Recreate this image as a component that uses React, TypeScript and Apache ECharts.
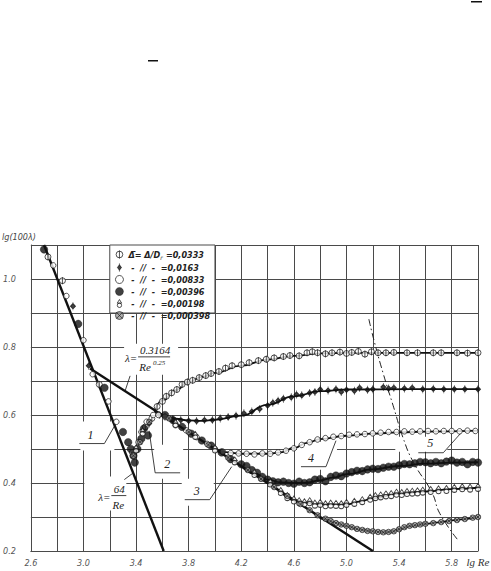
import { useEffect, useRef } from 'react';
import * as echarts from 'echarts';

// Relative roughness values (legend order)
const ROUGHNESS = ['0,0333', '0,0163', '0,00833', '0,00396', '0,00198', '0,000398'];

// Axis ticks: lg Re from 2.6 to 6.0, lg(100λ) from 0.2 to 1.1
const X_MIN = 2.6;
const X_MAX = 6.0;
const X_STEP = 0.2;
const Y_MIN = 0.2;
const Y_MAX = 1.1;
const Y_STEP = 0.1;
const X_NAME = 'lg Re';
const Y_NAME = 'lg(100λ)';

// Straight reference lines: laminar λ=64/Re and Blasius λ=0.3164/Re^0.25
const LAMINAR_X = [2.7, 3.61];
const LAMINAR_Y = [1.1, 0.2];
const BLASIUS_X = [3.05, 5.2];
const BLASIUS_Y = [0.737, 0.2];

// Averaging curves for each roughness
const FIT_A_X = [3.54, 3.6, 3.7, 3.8, 3.9, 4.0, 4.2, 4.4, 4.6, 4.8, 5.0, 5.5, 6.0];
const FIT_A_Y = [0.612, 0.642, 0.673, 0.697, 0.712, 0.724, 0.745, 0.763, 0.774, 0.781, 0.783, 0.783, 0.783];
const FIT_B_X = [3.54, 3.6, 3.7, 3.8, 3.9, 4.0, 4.2, 4.4, 4.6, 4.8, 5.0, 5.5, 6.0];
const FIT_B_Y = [0.612, 0.598, 0.589, 0.584, 0.583, 0.586, 0.598, 0.63, 0.655, 0.67, 0.675, 0.676, 0.676];
const FIT_C_X = [4.0, 4.1, 4.2, 4.4, 4.5, 4.6, 4.7, 4.8, 5.0, 5.2, 5.4, 5.6, 6.0];
const FIT_C_Y = [0.5, 0.49, 0.486, 0.486, 0.49, 0.503, 0.518, 0.529, 0.539, 0.545, 0.549, 0.551, 0.554];
const FIT_D_X = [4.2, 4.3, 4.4, 4.5, 4.6, 4.7, 4.8, 4.9, 5.0, 5.2, 5.4, 5.6, 5.8, 6.0];
const FIT_D_Y = [0.45, 0.428, 0.41, 0.402, 0.4, 0.401, 0.408, 0.416, 0.426, 0.44, 0.45, 0.457, 0.46, 0.461];
const FIT_E_X = [4.5, 4.6, 4.7, 4.8, 5.0, 5.1, 5.2, 5.4, 5.6, 5.8, 6.0];
const FIT_E_Y = [0.375, 0.35, 0.341, 0.337, 0.337, 0.345, 0.355, 0.368, 0.375, 0.382, 0.386];
const FIT_F_X = [4.75, 4.85, 4.9, 5.0, 5.1, 5.2, 5.3, 5.35, 5.4, 5.5, 5.6, 5.7, 5.8, 5.9, 6.0];
const FIT_F_Y = [0.312, 0.292, 0.284, 0.273, 0.263, 0.258, 0.255, 0.257, 0.264, 0.274, 0.28, 0.284, 0.29, 0.294, 0.3];

// Boundary of the quadratic-resistance zone (dash-dot)
const BOUNDARY_X = [5.17, 5.21, 5.28, 5.36, 5.43, 5.51, 5.65, 5.71, 5.85];
const BOUNDARY_Y = [0.882, 0.818, 0.721, 0.621, 0.533, 0.46, 0.372, 0.31, 0.231];

// Measured points [lg Re, lg(100λ)]
const PTS_A = [
  [2.73, 1.065], [2.84, 0.995], [3.12, 0.69], [3.42, 0.52], [3.47, 0.565], [3.52, 0.59], [3.56, 0.625],
  [3.6, 0.64], [3.63, 0.655], [3.67, 0.665], [3.71, 0.675], [3.75, 0.69], [3.79, 0.697], [3.83, 0.702],
  [3.88, 0.71], [3.93, 0.716], [3.97, 0.722], [4.03, 0.728], [4.08, 0.738], [4.13, 0.745], [4.2, 0.748],
  [4.26, 0.754], [4.33, 0.76], [4.39, 0.764], [4.45, 0.768], [4.52, 0.772], [4.57, 0.775], [4.64, 0.774],
  [4.7, 0.783], [4.74, 0.786], [4.78, 0.783], [4.84, 0.78], [4.89, 0.783], [4.95, 0.785], [5.0, 0.781],
  [5.04, 0.784], [5.09, 0.787], [5.14, 0.779], [5.19, 0.786], [5.24, 0.783], [5.3, 0.783], [5.36, 0.784],
  [5.46, 0.783], [5.54, 0.783], [5.66, 0.783], [5.72, 0.783], [5.84, 0.783], [5.92, 0.782], [6.0, 0.783],
];
const PTS_B = [
  [2.92, 0.92], [3.04, 0.745], [3.5, 0.575], [3.58, 0.6], [3.62, 0.595], [3.68, 0.588], [3.74, 0.585],
  [3.8, 0.583], [3.86, 0.582], [3.92, 0.585], [3.98, 0.585], [4.04, 0.59], [4.1, 0.594], [4.16, 0.598],
  [4.22, 0.605], [4.28, 0.61], [4.34, 0.618], [4.4, 0.628], [4.44, 0.636], [4.48, 0.642], [4.52, 0.648],
  [4.58, 0.652], [4.62, 0.66], [4.66, 0.658], [4.72, 0.665], [4.76, 0.668], [4.8, 0.675], [4.86, 0.672],
  [4.92, 0.676], [4.96, 0.668], [5.0, 0.674], [5.06, 0.671], [5.1, 0.68], [5.16, 0.674], [5.2, 0.676],
  [5.28, 0.682], [5.32, 0.678], [5.36, 0.68], [5.44, 0.678], [5.5, 0.68], [5.58, 0.676], [5.66, 0.677],
  [5.74, 0.676], [5.82, 0.676], [5.9, 0.676], [6.0, 0.676],
];
const PTS_C = [
  [2.77, 1.04], [2.87, 0.95], [3.0, 0.82], [3.07, 0.72], [3.19, 0.64], [3.25, 0.58], [3.37, 0.49],
  [3.44, 0.55], [3.48, 0.58], [3.53, 0.6], [3.57, 0.6], [3.62, 0.595], [3.7, 0.57], [3.78, 0.555],
  [3.86, 0.535], [3.94, 0.515], [4.0, 0.5], [4.06, 0.492], [4.12, 0.488], [4.18, 0.487], [4.24, 0.486],
  [4.3, 0.484], [4.36, 0.487], [4.42, 0.486], [4.48, 0.49], [4.54, 0.495], [4.6, 0.502], [4.66, 0.512],
  [4.72, 0.52], [4.78, 0.528], [4.84, 0.532], [4.9, 0.536], [4.96, 0.538], [5.02, 0.542], [5.08, 0.543],
  [5.14, 0.544], [5.2, 0.546], [5.26, 0.548], [5.32, 0.55], [5.38, 0.55], [5.44, 0.552], [5.5, 0.551],
  [5.56, 0.552], [5.62, 0.553], [5.68, 0.552], [5.74, 0.553], [5.8, 0.553], [5.86, 0.552], [5.92, 0.554],
  [5.98, 0.553],
];
const PTS_D = [
  [2.7, 1.087], [2.96, 0.868], [3.16, 0.68], [3.3, 0.55], [3.34, 0.52], [3.36, 0.5], [3.38, 0.48],
  [3.39, 0.46], [3.41, 0.5], [3.44, 0.53], [3.46, 0.56], [3.49, 0.54], [3.62, 0.6], [3.68, 0.585],
  [3.75, 0.565], [3.82, 0.545], [3.9, 0.525], [3.97, 0.51], [4.05, 0.49], [4.12, 0.47], [4.2, 0.455],
  [4.24, 0.45], [4.28, 0.438], [4.32, 0.43], [4.36, 0.418], [4.4, 0.41], [4.44, 0.405], [4.48, 0.402],
  [4.52, 0.404], [4.56, 0.4], [4.6, 0.398], [4.64, 0.404], [4.68, 0.4], [4.72, 0.402], [4.76, 0.41],
  [4.8, 0.412], [4.84, 0.405], [4.88, 0.418], [4.92, 0.422], [4.96, 0.42], [5.0, 0.428], [5.04, 0.432],
  [5.08, 0.436], [5.12, 0.435], [5.16, 0.44], [5.2, 0.442], [5.24, 0.441], [5.28, 0.445], [5.32, 0.448],
  [5.36, 0.448], [5.4, 0.452], [5.44, 0.456], [5.48, 0.455], [5.52, 0.458], [5.56, 0.462], [5.6, 0.461],
  [5.64, 0.458], [5.68, 0.462], [5.72, 0.458], [5.76, 0.463], [5.8, 0.466], [5.84, 0.46], [5.88, 0.462],
  [5.92, 0.455], [5.96, 0.462], [6.0, 0.46],
];
const PTS_E = [
  [3.4, 0.5], [3.45, 0.55], [3.7, 0.575], [3.85, 0.54], [4.0, 0.5], [4.15, 0.465], [4.3, 0.428],
  [4.42, 0.4], [4.5, 0.375], [4.55, 0.36], [4.6, 0.35], [4.64, 0.345], [4.68, 0.342], [4.72, 0.345],
  [4.76, 0.338], [4.8, 0.34], [4.84, 0.336], [4.88, 0.338], [4.92, 0.337], [4.96, 0.336], [5.0, 0.34],
  [5.06, 0.343], [5.12, 0.348], [5.18, 0.355], [5.22, 0.36], [5.26, 0.362], [5.3, 0.365], [5.34, 0.366],
  [5.38, 0.37], [5.42, 0.369], [5.46, 0.372], [5.5, 0.373], [5.54, 0.374], [5.58, 0.376], [5.64, 0.378],
  [5.7, 0.38], [5.76, 0.381], [5.82, 0.384], [5.88, 0.386], [5.94, 0.385], [6.0, 0.387],
];
const PTS_F = [
  [3.38, 0.48], [3.43, 0.52], [3.5, 0.58], [3.65, 0.59], [3.8, 0.55], [3.95, 0.512], [4.1, 0.475],
  [4.25, 0.438], [4.35, 0.412], [4.45, 0.388], [4.55, 0.362], [4.65, 0.338], [4.72, 0.32], [4.78, 0.305],
  [4.84, 0.295], [4.88, 0.288], [4.92, 0.282], [4.96, 0.278], [5.0, 0.274], [5.04, 0.27], [5.08, 0.265],
  [5.12, 0.262], [5.16, 0.259], [5.2, 0.258], [5.24, 0.256], [5.28, 0.255], [5.32, 0.256], [5.36, 0.258],
  [5.4, 0.264], [5.44, 0.27], [5.48, 0.274], [5.52, 0.276], [5.56, 0.278], [5.6, 0.28], [5.66, 0.282],
  [5.72, 0.285], [5.78, 0.288], [5.84, 0.291], [5.9, 0.294], [5.96, 0.298], [6.0, 0.3],
];

// Marker glyphs
const SYM_PHI = 'path://M0,6a5,5 0 1,0 10,0a5,5 0 1,0 -10,0M5,0L5,12';
const SYM_DROP = 'path://M4,0L4,2M4,10L4,12M4,2L7,6L4,10L1,6Z';
const SYM_TRI = 'path://M4,0L7,5L1,5ZM1,8a3,3 0 1,0 6,0a3,3 0 1,0 -6,0';
const SYM_CROSS = 'path://M0,5a5,5 0 1,0 10,0a5,5 0 1,0 -10,0M1.5,1.5L8.5,8.5M8.5,1.5L1.5,8.5';

const INK = '#111';
const GRID = '#4a4a4a';
const LABEL = '#555';
const NARROW = '"DejaVu Sans Condensed", "Liberation Sans Narrow", "Liberation Sans", sans-serif';
const SERIF = '"Liberation Serif", "DejaVu Serif", serif';

const pair = (xs: number[], ys: number[]) => xs.map((x, i) => [x, ys[i]]);

const MARKERS = [
  { pts: PTS_A, symbol: SYM_PHI, size: [6, 7], style: { color: '#fff', borderColor: INK, borderWidth: 0.9 } },
  { pts: PTS_B, symbol: SYM_DROP, size: [5, 8], style: { color: INK, borderColor: INK, borderWidth: 0.9 } },
  { pts: PTS_C, symbol: 'circle', size: 5.5, style: { color: '#fff', borderColor: INK, borderWidth: 0.9 } },
  { pts: PTS_D, symbol: 'circle', size: 7.5, style: { color: INK, borderColor: INK, borderWidth: 0.5 } },
  { pts: PTS_E, symbol: SYM_TRI, size: [5, 8], style: { color: '#fff', borderColor: INK, borderWidth: 0.9 } },
  { pts: PTS_F, symbol: SYM_CROSS, size: 5.5, style: { color: '#999', borderColor: INK, borderWidth: 0.8 } },
];

const FITS = [
  pair(FIT_A_X, FIT_A_Y), pair(FIT_B_X, FIT_B_Y), pair(FIT_C_X, FIT_C_Y),
  pair(FIT_D_X, FIT_D_Y), pair(FIT_E_X, FIT_E_Y), pair(FIT_F_X, FIT_F_Y),
];

function buildOption(): any {
  const lineSeries = (data: number[][], width: number, extra: any = {}) => ({
    type: 'line', data, showSymbol: false, symbol: 'none', silent: true, z: 3,
    lineStyle: { color: INK, width }, ...extra,
  });
  const series: any[] = [
    lineSeries(pair(LAMINAR_X, LAMINAR_Y), 2.4),
    lineSeries(pair(BLASIUS_X, BLASIUS_Y), 2.4),
    ...FITS.map((d) => lineSeries(d, 1.8, { smooth: true, smoothMonotone: 'x' })),
    lineSeries(pair(BOUNDARY_X, BOUNDARY_Y), 1, {
      smooth: true, lineStyle: { color: '#222', width: 1, type: [7, 3, 1.5, 3] }, z: 2,
    }),
    ...MARKERS.map((m, i) => ({
      type: 'scatter', name: ROUGHNESS[i], data: m.pts, symbol: m.symbol, symbolSize: m.size,
      itemStyle: m.style, z: 4, silent: true,
    })),
  ];
  return {
    animation: false,
    backgroundColor: '#fff',
    grid: { left: 28, right: 13, top: 245, bottom: 20, containLabel: false },
    xAxis: {
      type: 'value', min: X_MIN, max: X_MAX, interval: X_STEP,
      axisLine: { show: true, lineStyle: { color: GRID, width: 1 } },
      axisTick: { show: false },
      splitLine: { show: true, lineStyle: { color: GRID, width: 1 } },
      axisLabel: {
        margin: 7, color: LABEL, fontSize: 9, fontStyle: 'italic', fontFamily: NARROW,
        showMaxLabel: true, showMinLabel: true,
        formatter: (v: number) => {
          const i = Math.round((v - X_MIN) / X_STEP);
          return i % 2 === 0 && Math.abs(v - X_MAX) > 1e-6 ? v.toFixed(1) : '';
        },
      },
    },
    yAxis: {
      type: 'value', min: Y_MIN, max: Y_MAX, interval: Y_STEP,
      axisLine: { show: true, lineStyle: { color: GRID, width: 1 } },
      axisTick: { show: false },
      splitLine: { show: true, lineStyle: { color: GRID, width: 1 } },
      axisLabel: {
        margin: 15, color: LABEL, fontSize: 9, fontStyle: 'italic', fontFamily: NARROW,
        formatter: (v: number) => {
          const i = Math.round(v * 10);
          return i % 2 === 0 && i <= 10 ? v.toFixed(1) : '';
        },
      },
    },
    legend: {
      left: 110, top: 245, orient: 'vertical', itemWidth: 8, itemHeight: 8, itemGap: 3,
      selectedMode: false, z: 10,
      data: ROUGHNESS.map((name, i) => ({
        name, icon: MARKERS[i].symbol,
        itemStyle: MARKERS[i].style,
      })),
      formatter: (name: string) =>
        name === ROUGHNESS[0] ? `{t|Δ̄= Δ/D}{s|г}{t| =${name}}` : `{t| -  //  -  =${name}}`,
      textStyle: {
        color: '#222', fontSize: 9, lineHeight: 9, fontStyle: 'italic', fontFamily: NARROW,
        rich: {
          t: { color: '#222', fontSize: 9, fontStyle: 'italic', fontWeight: 'bold', fontFamily: NARROW },
          s: { color: '#222', fontSize: 6, fontStyle: 'italic', fontFamily: NARROW, padding: [5, 0, 0, 0] },
        },
      },
    },
    series,
  };
}

function buildGraphic(px: (x: number, y: number) => number[]): any[] {
  const els: any[] = [];
  const rect = (x: number, y: number, w: number, h: number, stroke?: string) => els.push({
    type: 'rect', z: 1, silent: true, shape: { x, y, width: w, height: h },
    style: { fill: '#fff', stroke: stroke || 'none', lineWidth: stroke ? 1 : 0 },
  });
  const seg = (x1: number, y1: number, x2: number, y2: number, w = 1) => els.push({
    type: 'line', z: 6, silent: true, shape: { x1, y1, x2, y2 }, style: { stroke: INK, lineWidth: w },
  });
  const txt = (text: string, x: number, y: number, size: number, family = SERIF, fill = '#222') => els.push({
    type: 'text', z: 7, silent: true,
    style: { text, x, y, fill, fontSize: size, fontFamily: family, fontStyle: 'italic', align: 'center', verticalAlign: 'middle' },
  });

  // legend box between lgRe 3.2…4.0 and lg(100λ) 0.9…1.1
  const b0 = px(3.2, 1.1);
  const b1 = px(4.0, 0.9);
  rect(b0[0], b0[1], b1[0] - b0[0], b1[1] - b0[1], GRID);

  // Blasius formula
  const f1 = px(3.537, 0.771);
  rect(f1[0] - 30, f1[1] - 13, 54, 31);
  txt('λ=', f1[0] - 23, f1[1] + 1, 11);
  txt('0.3164', f1[0] + 1, f1[1] - 7, 11);
  seg(f1[0] - 16, f1[1], f1[0] + 16, f1[1], 0.8);
  txt('Re', f1[0] - 9, f1[1] + 10, 11);
  txt('0.25', f1[0] + 5, f1[1] + 6, 7);
  seg(f1[0] - 24, f1[1] + 19, f1[0] - 29, f1[1] + 34, 0.8);

  // laminar formula
  const f2 = px(3.265, 0.363);
  rect(f2[0] - 34, f2[1] - 19, 42, 34);
  txt('λ=', f2[0] - 14, f2[1] + 1, 11);
  txt('64', f2[0] + 1, f2[1] - 7, 11);
  seg(f2[0] - 7, f2[1], f2[0] + 8, f2[1], 0.8);
  txt('Re', f2[0], f2[1] + 9, 11);
  seg(f2[0] + 6, f2[1] - 16, f2[0] + 14, f2[1] - 22, 0.8);

  // numbered callouts: kink point, label offset, leader tip, white backing, shelf direction
  const callouts: [string, number, number, number[], number[], number[], number][] = [
    ['1', 3.159, 0.516, [-14, -9], [11, -19], [-24, -22, 34, 29], -1],
    ['2', 3.545, 0.43, [12, -9], [-6, -42], [-1, -28, 29, 34], 1],
    ['3', 3.96, 0.351, [-13, -9], [22, -33], [-28, -21, 32, 27], -1],
    ['4', 4.844, 0.448, [-15, -9], [10, -26], [-29, -25, 40, 28], -1],
    ['5', 5.736, 0.489, [-13, -10], [17, -19], [-48, -16, 52, 15], -1],
  ];
  callouts.forEach(([label, x, y, off, tip, box, dir]) => {
    const a = px(x, y);
    rect(a[0] + box[0], a[1] + box[1], box[2], box[3]);
    txt(label, a[0] + off[0], a[1] + off[1], 12);
    seg(a[0] + 25 * dir, a[1], a[0], a[1], 0.8);
    seg(a[0], a[1], a[0] + tip[0], a[1] + tip[1], 0.8);
  });

  // axis titles
  const xEnd = px(X_MAX, Y_MIN);
  els.push({
    type: 'text', z: 7, silent: true,
    style: { text: X_NAME, x: xEnd[0], y: xEnd[1] + 11, fill: '#333', fontSize: 11, fontFamily: SERIF, fontStyle: 'italic', align: 'center', verticalAlign: 'middle' },
  });
  els.push({
    type: 'text', z: 7, silent: true,
    style: { text: Y_NAME, x: 2, y: 237, fill: '#444', fontSize: 9, fontFamily: NARROW, fontStyle: 'italic', align: 'left', verticalAlign: 'middle' },
  });
  // overline fragments at the top of the sheet
  els.push({ type: 'rect', z: 7, silent: true, shape: { x: 471, y: 1, width: 11, height: 1.5 }, style: { fill: '#111' } });
  els.push({ type: 'rect', z: 7, silent: true, shape: { x: 148, y: 60, width: 10, height: 1.5 }, style: { fill: '#111' } });
  return els;
}

export default function App() {
  const ref = useRef<HTMLDivElement>(null);
  useEffect(() => {
    const el = ref.current;
    if (!el) return;
    const chart = echarts.init(el, null, { renderer: 'svg' });
    chart.setOption(buildOption());
    const px = (x: number, y: number) => chart.convertToPixel({ gridIndex: 0 }, [x, y]) as number[];
    chart.setOption({ graphic: buildGraphic(px) });
    return () => chart.dispose();
  }, []);
  return (
    <div
      ref={ref}
      style={{ position: 'fixed', left: 0, top: 0, width: 491, height: 571, background: '#fff' }}
    />
  );
}
